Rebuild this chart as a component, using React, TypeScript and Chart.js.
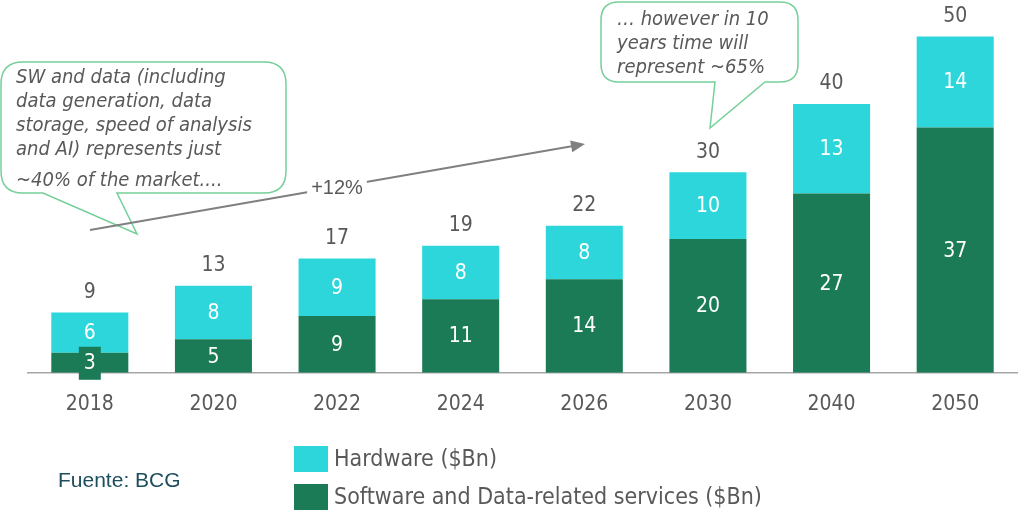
import React, { useEffect, useRef } from "react";
import { Chart, registerables } from "chart.js";

Chart.register(...registerables);

const categories = ["2018", "2020", "2022", "2024", "2026", "2030", "2040", "2050"];
const softwareValues = [3, 5, 8.5, 11, 14, 20, 26.8, 36.7];
const hardwareValues = [6, 8, 8.6, 8, 8, 10, 13.4, 13.6];
const totalValues = [9, 13, 17, 19, 22, 30, 40, 50];
const seriesNames = ["Software and Data-related services ($Bn)", "Hardware ($Bn)"];
const callout1Lines = [
  "SW and data (including",
  "data generation, data",
  "storage, speed of analysis",
  "and AI) represents just",
  "~40% of the market....",
];
const callout2Lines = ["… however in 10", "years time will", "represent ~65%"];
const growthLabel = "+12%";
const sourceLabel = "Fuente: BCG";

const GREEN = "#1b7b56";
const CYAN = "#2dd6db";
const GRAY = "#595959";
const BUBBLE = "#74cf98";
const FONT = "'DejaVu Sans Condensed', 'DejaVu Sans', sans-serif";

function bubblePath(
  ctx: CanvasRenderingContext2D,
  x0: number, y0: number, x1: number, y1: number, r: number,
  bl: number, br: number, tx: number, ty: number
) {
  ctx.beginPath();
  ctx.moveTo(x0 + r, y0);
  ctx.lineTo(x1 - r, y0);
  ctx.quadraticCurveTo(x1, y0, x1, y0 + r);
  ctx.lineTo(x1, y1 - r);
  ctx.quadraticCurveTo(x1, y1, x1 - r, y1);
  ctx.lineTo(br, y1);
  ctx.lineTo(tx, ty);
  ctx.lineTo(bl, y1);
  ctx.lineTo(x0 + r, y1);
  ctx.quadraticCurveTo(x0, y1, x0, y1 - r);
  ctx.lineTo(x0, y0 + r);
  ctx.quadraticCurveTo(x0, y0, x0 + r, y0);
  ctx.closePath();
}

const overlayPlugin = {
  id: "overlay",
  afterDatasetsDraw(chart: any) {
    const ctx: CanvasRenderingContext2D = chart.ctx;
    ctx.save();
    ctx.textAlign = "center";
    ctx.textBaseline = "middle";
    ctx.font = `21px ${FONT}`;
    chart.data.datasets.forEach((ds: any, di: number) => {
      const meta = chart.getDatasetMeta(di);
      meta.data.forEach((el: any, i: number) => {
        const cy = (el.y + el.base) / 2;
        const v = ds.data[i];
        if (el.base - el.y < 30) {
          ctx.fillStyle = GREEN;
          ctx.fillRect(el.x - 11, cy - 16, 22, 33);
        }
        ctx.fillStyle = "#ffffff";
        ctx.fillText(String(Math.round(v)), el.x, cy + 1);
      });
    });
    const top = chart.getDatasetMeta(1);
    ctx.fillStyle = GRAY;
    top.data.forEach((el: any, i: number) => {
      ctx.fillText(String(totalValues[i]), el.x, el.y - 20);
    });
    ctx.restore();
  },
  afterDraw(chart: any) {
    const ctx: CanvasRenderingContext2D = chart.ctx;
    ctx.save();
    // callout 1
    bubblePath(ctx, 1, 62, 286, 193, 22, 43, 117, 137, 234);
    ctx.fillStyle = "#ffffff";
    ctx.fill();
    ctx.strokeStyle = BUBBLE;
    ctx.lineWidth = 1.5;
    ctx.stroke();
    ctx.fillStyle = GRAY;
    ctx.font = `italic 20px ${FONT}`;
    ctx.textAlign = "left";
    ctx.textBaseline = "middle";
    const ys1 = [78, 102, 126, 150, 181];
    callout1Lines.forEach((t, i) => ctx.fillText(t, 16, ys1[i]));
    // callout 2
    bubblePath(ctx, 601, 2, 798, 82, 18, 715, 765, 710, 128);
    ctx.fillStyle = "#ffffff";
    ctx.fill();
    ctx.strokeStyle = BUBBLE;
    ctx.stroke();
    ctx.fillStyle = GRAY;
    const ys2 = [20, 44, 68];
    callout2Lines.forEach((t, i) => ctx.fillText(t, 617, ys2[i]));
    // arrow
    const ax0 = 90, ay0 = 230, ax1 = 585, ay1 = 144;
    ctx.strokeStyle = "#808080";
    ctx.lineWidth = 2;
    ctx.beginPath();
    ctx.moveTo(ax0, ay0);
    const ang = Math.atan2(ay1 - ay0, ax1 - ax0);
    ctx.lineTo(ax1 - 12 * Math.cos(ang), ay1 - 12 * Math.sin(ang));
    ctx.stroke();
    ctx.fillStyle = "#808080";
    ctx.beginPath();
    ctx.moveTo(ax1, ay1);
    ctx.lineTo(ax1 - 14 * Math.cos(ang) + 6 * Math.sin(ang), ay1 - 14 * Math.sin(ang) - 6 * Math.cos(ang));
    ctx.lineTo(ax1 - 14 * Math.cos(ang) - 6 * Math.sin(ang), ay1 - 14 * Math.sin(ang) + 6 * Math.cos(ang));
    ctx.closePath();
    ctx.fill();
    ctx.font = `20px 'Liberation Sans', Arial, sans-serif`;
    ctx.textAlign = "center";
    const lw = ctx.measureText(growthLabel).width;
    ctx.fillStyle = "#ffffff";
    ctx.fillRect(337 - lw / 2 - 4, 175, lw + 8, 24);
    ctx.fillStyle = GRAY;
    ctx.fillText(growthLabel, 337, 188);
    // legend
    const colors = [GREEN, CYAN];
    const legendY = [497, 459];
    ctx.textAlign = "left";
    ctx.font = `23px ${FONT}`;
    [1, 0].forEach((di) => {
      ctx.fillStyle = colors[di];
      ctx.fillRect(294, legendY[di] - 13, 34, 26);
      ctx.fillStyle = GRAY;
      ctx.fillText(seriesNames[di], 334, legendY[di] + 1);
    });
    // source
    ctx.fillStyle = "#1d4e5e";
    ctx.font = `21px 'Liberation Sans', Arial, sans-serif`;
    ctx.fillText(sourceLabel, 58, 481);
    ctx.restore();
  },
};

export default function App() {
  const ref = useRef<HTMLCanvasElement | null>(null);
  useEffect(() => {
    if (!ref.current) return;
    const chart = new Chart(ref.current, {
      type: "bar",
      data: {
        labels: categories,
        datasets: [
          { label: seriesNames[0], data: softwareValues, backgroundColor: GREEN, borderWidth: 0 },
          { label: seriesNames[1], data: hardwareValues, backgroundColor: CYAN, borderWidth: 0 },
        ],
      },
      options: {
        animation: false,
        responsive: false,
        maintainAspectRatio: false,
        layout: { padding: { left: 28, right: 1, top: 5, bottom: 79 } },
        plugins: { legend: { display: false }, tooltip: { enabled: false } },
        datasets: { bar: { categoryPercentage: 1, barPercentage: 0.623 } },
        scales: {
          x: {
            stacked: true,
            grid: { display: true, drawOnChartArea: false, drawTicks: false },
            border: { display: true, color: "#a6a6a6", width: 1.5 },
            ticks: { color: GRAY, font: { size: 21, family: FONT }, padding: 19 },
          },
          y: { stacked: true, display: false, min: 0, max: 55 },
        },
      },
      plugins: [overlayPlugin],
    });
    return () => chart.destroy();
  }, []);
  return (
    <div style={{ position: "absolute", left: 0, top: 0, width: 1018, height: 515, background: "#fff" }}>
      <canvas ref={ref} width={1018} height={515} style={{ width: 1018, height: 515 }} />
    </div>
  );
}
